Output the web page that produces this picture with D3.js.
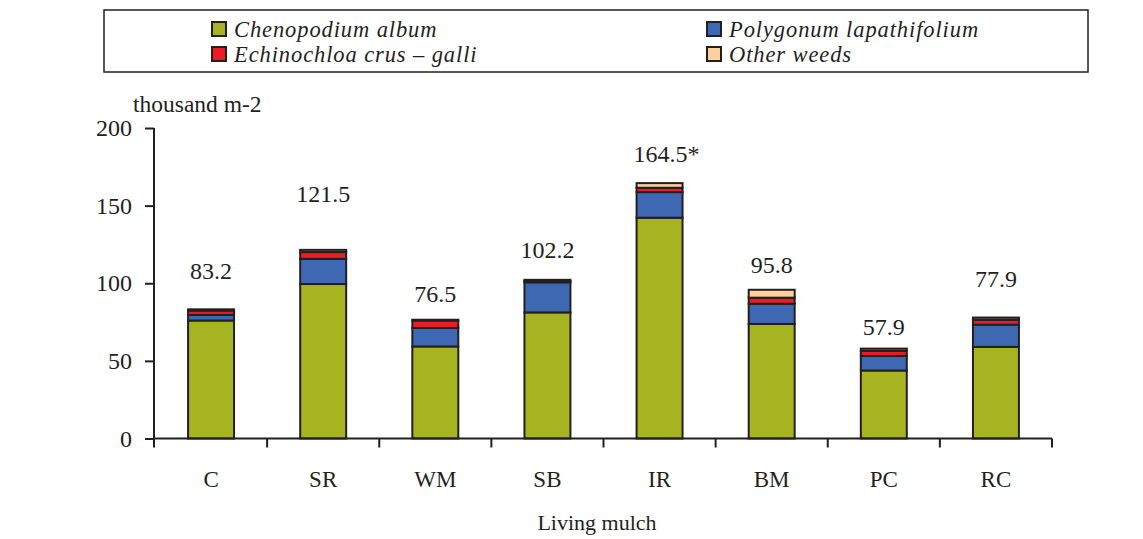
<!DOCTYPE html>
<html>
<head>
<meta charset="utf-8">
<script src="https://cdn.jsdelivr.net/npm/d3@7"></script>
<style>
  html, body { margin: 0; padding: 0; background: #fff; }
  svg { display: block; }
  text { font-family: "Liberation Serif", "Times New Roman", serif; fill: #231f20; }
</style>
</head>
<body>
<svg id="chart" width="1143" height="539"></svg>
<script>
// ---- data ----
const categories = ["C", "SR", "WM", "SB", "IR", "BM", "PC", "RC"];
const seriesNames = ["Chenopodium album", "Polygonum lapathifolium", "Echinochloa crus \u2013 galli", "Other weeds"];
const chenopodium = [76.0, 99.5, 59.3, 81.2, 142.2, 73.8, 43.8, 59.0];
const polygonum   = [3.6, 16.2, 11.9, 19.4, 16.5, 13.0, 9.4, 14.3];
const echinochloa = [2.8, 4.4, 4.8, 0.8, 2.8, 3.9, 3.3, 3.2];
const otherWeeds  = [0.8, 1.4, 0.5, 0.8, 3.0, 5.1, 1.4, 1.4];
const totalLabels = ["83.2", "121.5", "76.5", "102.2", "164.5*", "95.8", "57.9", "77.9"];
const yTicks = [0, 50, 100, 150, 200];

// ---- build table ----
const keys = ["chenopodium", "polygonum", "echinochloa", "other"];
const table = categories.map((c, i) => ({
  cat: c,
  chenopodium: chenopodium[i],
  polygonum: polygonum[i],
  echinochloa: echinochloa[i],
  other: otherWeeds[i]
}));
const colors = ["#a6b422", "#3e68b1", "#ed1c24", "#fdd09f"];
const ink = "#231f20";

const svg = d3.select("#chart");

const x = d3.scaleBand().domain(categories).range([155, 1052]).paddingInner(0.59).paddingOuter(0.295);
const y = d3.scaleLinear().domain([0, 200]).range([438.5, 128]);

// ---- bars ----
const stack = d3.stack().keys(keys)(table);
const layers = svg.append("g").selectAll("g").data(stack).join("g")
  .attr("fill", (d, i) => colors[i]);
layers.selectAll("rect").data(d => d).join("rect")
  .attr("x", d => x(d.data.cat))
  .attr("width", x.bandwidth())
  .attr("y", d => y(d[1]))
  .attr("height", d => y(d[0]) - y(d[1]))
  .attr("stroke", ink)
  .attr("stroke-width", 2);

// ---- axes ----
const yAxis = svg.append("g").attr("transform", "translate(154,0)")
  .call(d3.axisLeft(y).tickValues(yTicks).tickSize(9).tickPadding(13));
yAxis.attr("font-family", null);
yAxis.select(".domain").remove();
yAxis.append("line").attr("x1", 0).attr("x2", 0).attr("y1", y(200)).attr("y2", y(0) + 9)
  .attr("stroke", ink).attr("stroke-width", 2);
yAxis.selectAll(".tick line").attr("stroke", ink).attr("stroke-width", 2);
yAxis.selectAll(".tick text").attr("font-size", 24).attr("fill", ink);

// x axis: baseline with ticks at band boundaries
const xg = svg.append("g");
xg.append("line").attr("x1", 154).attr("x2", 1052).attr("y1", y(0)).attr("y2", y(0))
  .attr("stroke", ink).attr("stroke-width", 2);
const step = x.step();
const boundaries = categories.map(c => x(c) - x.paddingOuter() * step)
  .concat([x(categories[categories.length - 1]) + x.bandwidth() + x.paddingOuter() * step]);
xg.selectAll("line.tk").data(boundaries.slice(1)).join("line").attr("class", "tk")
  .attr("x1", d => d).attr("x2", d => d).attr("y1", y(0)).attr("y2", y(0) + 9)
  .attr("stroke", ink).attr("stroke-width", 2);
xg.selectAll("text").data(categories).join("text")
  .attr("x", d => x(d) + x.bandwidth() / 2)
  .attr("y", 487)
  .attr("text-anchor", "middle")
  .attr("font-size", 23)
  .text(d => d);

svg.append("text").attr("x", 597).attr("y", 530).attr("text-anchor", "middle")
  .attr("font-size", 22).text("Living mulch");
svg.append("text").attr("x", 133).attr("y", 112).attr("font-size", 23.5).text("thousand m-2");

// ---- total labels ----
const labelGap = [30, 48, 18, 21.5, 21, 16.5, 13.6, 31];
svg.append("g").selectAll("text").data(table).join("text")
  .attr("x", (d, i) => x(d.cat) + x.bandwidth() / 2 + (i === 4 ? 7 : 0))
  .attr("y", (d, i) => y(d.chenopodium + d.polygonum + d.echinochloa + d.other) - labelGap[i])
  .attr("text-anchor", "middle")
  .attr("font-size", 24)
  .text((d, i) => totalLabels[i]);

// ---- legend ----
const lg = svg.append("g");
lg.append("rect").attr("x", 104).attr("y", 10).attr("width", 984).attr("height", 62)
  .attr("fill", "none").attr("stroke", ink).attr("stroke-width", 1.5);
const legendPos = [[212, 22], [707, 22], [212, 47], [707, 47]];
seriesNames.forEach((name, k) => {
  const [lx, ly] = legendPos[k];
  lg.append("rect").attr("x", lx).attr("y", ly).attr("width", 14).attr("height", 14)
    .attr("fill", colors[k]).attr("stroke", ink).attr("stroke-width", 2);
  lg.append("text").attr("x", lx + 22).attr("y", ly + 14.5)
    .attr("font-size", 22.5).attr("letter-spacing", 0.9).attr("font-style", "italic").text(name);
});
</script>
</body>
</html>
